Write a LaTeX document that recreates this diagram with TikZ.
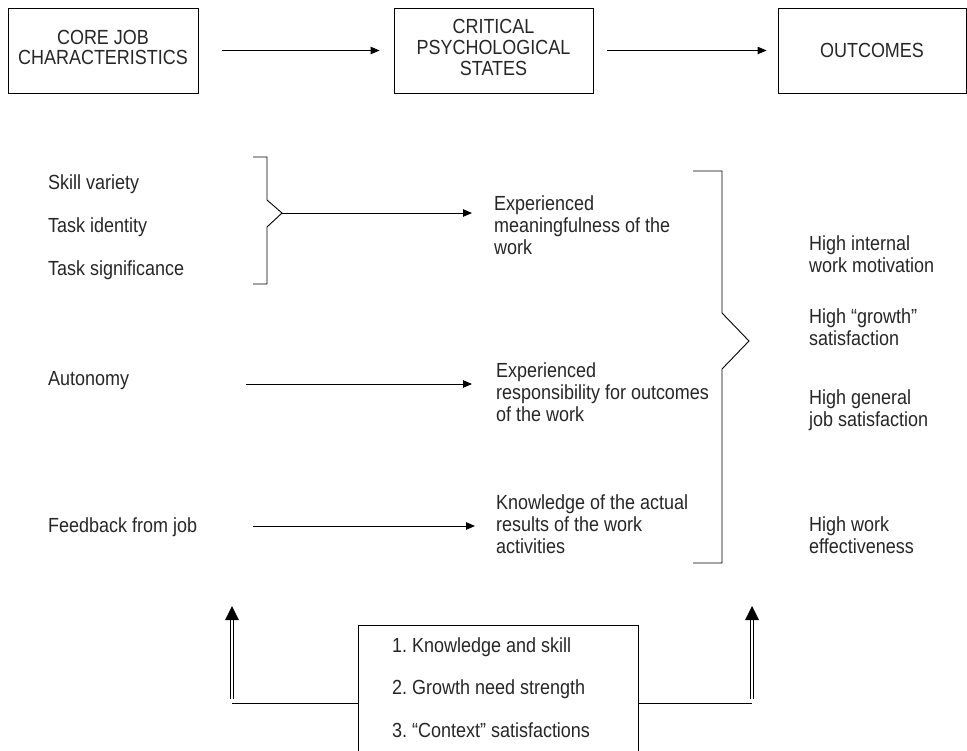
\documentclass[tikz,border=0pt]{standalone}
\usepackage{fontspec}
\setmainfont{Liberation Sans}[FakeStretch=0.88]
\usetikzlibrary{arrows.meta,calc}
\frenchspacing
% left-aligned (or other) stacked lines whose baseline is the first line
\newcommand\txtrows[2][l]{\begin{tabular}[t]{@{}#1@{}}#2\end{tabular}}
\begin{document}
\begin{tikzpicture}[x=1bp, y=-1bp,
  lbl/.style={anchor=base west, inner sep=0pt, text=black!85,
              font=\fontsize{20.5}{22.5}\selectfont},
  hbox/.style={draw, line width=0.9bp, inner sep=0pt, text=black!85},
  link/.style={line width=0.9bp, -{Triangle[length=9bp,width=7.5bp]}},
  brk/.style={line width=0.9bp, line join=miter},
  dbl/.style={double, double distance=2.4bp, line width=0.8bp},
]
\useasboundingbox (0,0) rectangle (967,751);
\clip (0,0) rectangle (967,751);

% ---- headline boxes ----
\node[hbox, minimum width=190bp, minimum height=85bp,
      font=\fontsize{20.5}{18.5}\selectfont] (core) at (103,50.5)
      {\txtrows[c]{CORE JOB\\CHARACTERISTICS}};
\node[hbox, minimum width=199bp, minimum height=85bp,
      font=\fontsize{20.5}{21}\selectfont] (crit) at (493.5,50.5)
      {\txtrows[c]{CRITICAL\\PSYCHOLOGICAL\\STATES}};
\node[hbox, minimum width=188bp, minimum height=85bp,
      font=\fontsize{20.5}{21}\selectfont] (outc) at (872,50.5) {OUTCOMES};
\draw[link] ([xshift=24bp]core.east) -- ([xshift=-14bp]crit.west);
\draw[link] ([xshift=14bp]crit.east) -- ([xshift=-11bp]outc.west);

% ---- core job characteristics ----
\node[lbl] (skill) at (48,189) {Skill variety};
\node[lbl] (tid)   at (48,232) {Task identity};
\node[lbl] (tsig)  at (48,275) {Task significance};
\node[lbl] (auto)  at (48,385) {Autonomy};
\node[lbl] (feed)  at (48,532) {Feedback from job};

% ---- psychological states ----
\node[lbl] (mean) at (494,210) {\txtrows{Experienced\\meaningfulness of the\\work}};
\node[lbl] (resp) at (496,377) {\txtrows{Experienced\\responsibility for outcomes\\of the work}};
\node[lbl] (know) at (496,509) {\txtrows{Knowledge of the actual\\results of the work\\activities}};

% ---- outcomes ----
\node[lbl] (hint)  at (809,250) {\txtrows{High internal\\work motivation}};
\node[lbl] (hgrow) at (809,323) {\txtrows{High “growth”\\satisfaction}};
\node[lbl] (hgen)  at (809,404) {\txtrows{High general\\job satisfaction}};
\node[lbl] (hwork) at (809,531) {\txtrows{High work\\effectiveness}};

% bracket gathering the first three characteristics
\coordinate (b1) at (282,213);
\draw[brk] (253,157) -- (267,157) -- (267,200) -- (b1) -- (267,227)
           -- (267,284) -- (253,284);
\draw[link] (b1) -- ([xshift=-22bp]mean.west |- b1);

\coordinate (autoout) at (246,384);
\draw[link] (autoout) -- ([xshift=-24bp]resp.west |- autoout);
\coordinate (feedout) at (253,526);
\draw[link] (feedout) -- ([xshift=-21bp]know.west |- feedout);

% bracket gathering the three states
\draw[brk] (693,171) -- (722,171) -- (722,313) -- (749,341) -- (722,369)
           -- (722,563) -- (693,563);

% ---- moderators ----
\node[draw, line width=0.9bp, minimum width=280bp, minimum height=160bp,
      anchor=north west, inner sep=0pt] (mod) at (358,625) {};
\node[lbl, font=\fontsize{20.5}{43}\selectfont] (modtxt) at (392,652)
  {\txtrows{1. Knowledge and skill\\2. Growth need strength\\3. “Context” satisfactions}};

\coordinate (lt) at (232,606);
\coordinate (rt) at (752,606);
\draw[dbl] (mod.west) -- (lt |- mod.west);
\draw[dbl] (mod.east) -- (rt |- mod.east);
\draw[dbl] ($(lt |- mod.west)+(0,-6)$) -- ($(lt)+(0,13)$);
\draw[dbl] ($(rt |- mod.east)+(0,-6)$) -- ($(rt)+(0,13)$);
\fill (lt) -- ($(lt)+(-7,14)$) -- ($(lt)+(7,14)$) -- cycle;
\fill (rt) -- ($(rt)+(-7,14)$) -- ($(rt)+(7,14)$) -- cycle;
\end{tikzpicture}
\end{document}
